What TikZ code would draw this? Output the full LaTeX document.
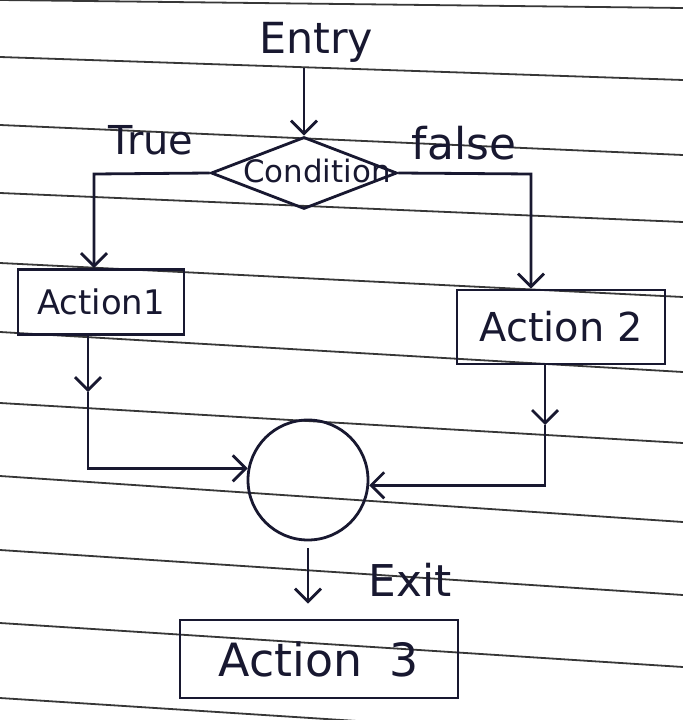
\documentclass[tikz,border=0pt]{standalone}
\usepackage{fontspec}
\setmainfont{DejaVu Sans}
\usetikzlibrary{arrows.meta,shapes.geometric,calc}
\definecolor{ink}{RGB}{24,24,48}
\definecolor{ruling}{RGB}{55,55,55}
\newcommand\hsz[1]{\fontsize{#1}{#1}\selectfont}
\tikzset{
  pen/.style={draw=ink, line width=2.8bp},
  flow/.style={pen, -{Straight Barb[length=13bp,width=26bp]}},
  ruleline/.style={draw=ruling, line width=1.8bp},
  word/.style={text=ink, inner sep=0pt},
  actionbox/.style={pen, rectangle, inner sep=0pt, text=ink},
  decision/.style={pen, diamond, inner sep=0pt, minimum width=186bp, minimum height=72bp},
  junction/.style={pen, circle, inner sep=0pt, minimum size=120bp}
}
\begin{document}
\begin{tikzpicture}[x=1bp,y=-1bp]
\useasboundingbox[fill=white] (0,0) rectangle (683,720);
% ruled notebook paper
\begin{scope}
  \clip (0,0) rectangle (683,720);
  \foreach \l/\r in {0/8,57/80,125/155,193/222,263/297,332/372,403/443,476/522,550/595,623/667,698/742}
    \draw[ruleline] (0,\l) -- (683,\r);
\end{scope}

% nodes
\node[word, font=\hsz{43}] (entry) at (316,42) {Entry};
\node[decision, label={[text=ink, font=\hsz{31}, xshift=13bp, yshift=2bp]center:Condition}] (cond) at (304,173) {};
\node[word, font=\hsz{40}] (true) at (151,140) {True};
\node[word, font=\hsz{44}] (false) at (464,143) {false};
\node[actionbox, minimum width=166bp, minimum height=65bp, font=\hsz{34}] (a1) at (101,302) {Action1};
\node[actionbox, minimum width=208bp, minimum height=74bp, font=\hsz{40}] (a2) at (561,327) {Action 2};
\node[junction] (circ) at (308,480) {};
\node[word, font=\hsz{44}] (exit) at (410,580) {Exit};
\node[actionbox, minimum width=278bp, minimum height=78bp, font=\hsz{46}] (a3) at (319,659) {Action\hspace{0.6em}3};

% connectors
\coordinate (tl) at (94,174);
\coordinate (tr) at (531,174);
\coordinate (lm) at (88,392);
\coordinate (rm) at (545,425);

\draw[flow] (entry.south -| cond.north) ++(0,6) -- (cond.north);
\draw[flow] (cond.west) -- (tl) -- (tl |- a1.north);
\draw[flow] (cond.east) -- (tr) -- (tr |- a2.north);
\draw[flow] (a1.south -| lm) -- (lm);
\draw[flow] (lm) |- (circ.169);
\draw[flow] (a2.south -| rm) -- (rm);
\draw[flow] (rm) |- (circ.-5);
\draw[flow, shorten <=7bp, shorten >=15bp] (circ.south) -- (circ.south |- a3.north);
\end{tikzpicture}
\end{document}
